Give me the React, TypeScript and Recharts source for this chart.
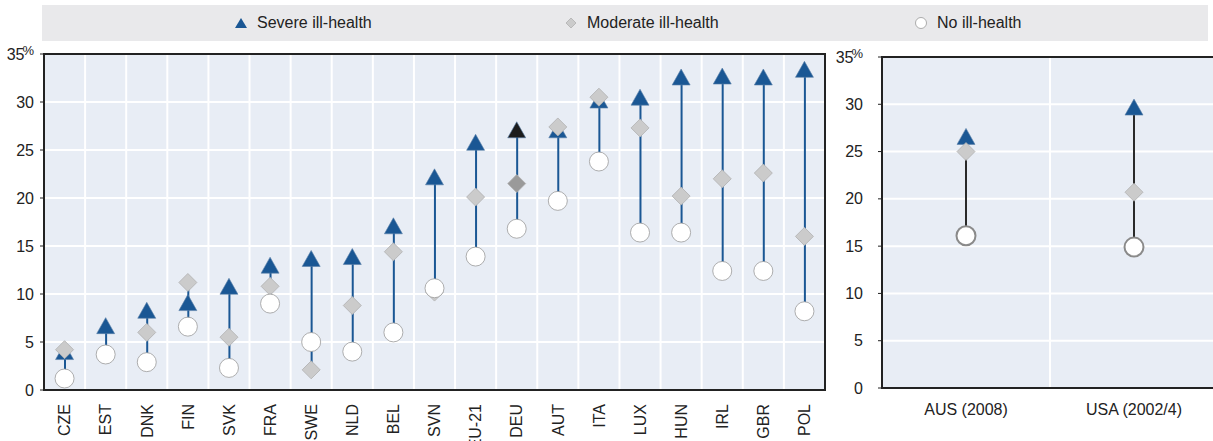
import React from 'react';
import { ComposedChart, Bar, Line, XAxis, YAxis, CartesianGrid } from 'recharts';

// country data, in %
const CATEGORIES = ['CZE', 'EST', 'DNK', 'FIN', 'SVK', 'FRA', 'SWE', 'NLD', 'BEL', 'SVN', 'EU-21', 'DEU', 'AUT', 'ITA', 'LUX', 'HUN', 'IRL', 'GBR', 'POL'];
const SEVERE = [3.9, 6.6, 8.2, 9.0, 10.7, 12.9, 13.6, 13.8, 17.0, 22.1, 25.7, 27.0, 27.0, 30.1, 30.4, 32.5, 32.6, 32.5, 33.3];
const MODERATE = [4.2, 3.7, 6.0, 11.2, 5.5, 10.8, 2.1, 8.8, 14.4, 10.2, 20.1, 21.5, 27.4, 30.5, 27.3, 20.2, 22.0, 22.6, 16.0];
const NO_ILL = [1.2, 3.7, 2.9, 6.6, 2.3, 9.0, 5.0, 4.0, 6.0, 10.6, 13.9, 16.8, 19.7, 23.8, 16.4, 16.4, 12.4, 12.4, 8.2];

// other countries (different survey years)
const OTHER_CATEGORIES = ['AUS (2008)', 'USA (2002/4)'];
const OTHER_SEVERE = [26.5, 29.6];
const OTHER_MODERATE = [25.0, 20.7];
const OTHER_NO_ILL = [16.1, 14.9];

const Y_TICKS = [0, 5, 10, 15, 20, 25, 30, 35];

const FONT = '"Liberation Sans", Arial, sans-serif';
const BLUE = '#1a5794';
const GRID_BG = '#e8edf5';

const buildRows = (cats: string[], sev: number[], mod: number[], no: number[]) =>
  cats.map((c, i) => ({
    country: c,
    severe: sev[i],
    moderate: mod[i],
    noIll: no[i],
    range: [Math.min(sev[i], mod[i], no[i]), Math.max(sev[i], mod[i], no[i])],
  }));

const mainData = buildRows(CATEGORIES, SEVERE, MODERATE, NO_ILL);
const otherData = buildRows(OTHER_CATEGORIES, OTHER_SEVERE, OTHER_MODERATE, OTHER_NO_ILL);

const Triangle = (props: any) => {
  const { cx, cy, payload } = props;
  if (cx == null || cy == null) return null;
  const fill = payload?.country === 'DEU' ? '#1c1c1c' : BLUE;
  return (
    <path
      d={`M${cx},${cy - 9} L${cx + 9},${cy + 7} L${cx - 9},${cy + 7} Z`}
      fill={fill}
      stroke="#5b7fa8"
      strokeWidth={0.6}
    />
  );
};

const Diamond = (props: any) => {
  const { cx, cy, payload } = props;
  if (cx == null || cy == null) return null;
  const fill = payload?.country === 'DEU' ? '#9a9a9a' : '#cbcbcb';
  return (
    <path
      d={`M${cx},${cy - 9} L${cx + 9},${cy} L${cx},${cy + 9} L${cx - 9},${cy} Z`}
      fill={fill}
      stroke="#b0b0b0"
      strokeWidth={0.8}
    />
  );
};

const makeCircle = (strokeColor: string, sw: number) => (props: any) => {
  const { cx, cy } = props;
  if (cx == null || cy == null) return null;
  return <circle cx={cx} cy={cy} r={9.5} fill="#fff" stroke={strokeColor} strokeWidth={sw} />;
};

const YTick = (props: any) => {
  const { x, y, payload } = props;
  if (payload.value === 35) {
    return (
      <text x={x} y={y} dy="0.35em" textAnchor="end" fontSize={16} fill="#222" fontFamily={FONT}>
        35
        <tspan fontSize={13} dy={-5} dx={-2}>%</tspan>
      </text>
    );
  }
  return (
    <text x={x} y={y} dy="0.35em" textAnchor="end" fontSize={16} fill="#222" fontFamily={FONT}>
      {payload.value}
    </text>
  );
};

const RotatedTick = (props: any) => {
  const { x, y, payload } = props;
  const top = y + 6;
  return (
    <text
      x={x}
      y={top}
      dy="0.36em"
      textAnchor="end"
      fontSize={16}
      fill="#222"
      fontFamily={FONT}
      transform={`rotate(-90, ${x}, ${top})`}
    >
      {payload.value}
    </text>
  );
};

// gridlines sit on category boundaries, not on category centres
const boundaries = (n: number) => ({ offset }: any) =>
  Array.from({ length: n + 1 }, (_, i) => offset.left + (i * offset.width) / n);

const LegendItem = ({ icon, label, left }: { icon: React.ReactNode; label: string; left: number }) => (
  <div style={{ position: 'absolute', left, top: 0, height: 36, display: 'flex', alignItems: 'center' }}>
    <svg width={16} height={16} style={{ marginRight: 8 }}>{icon}</svg>
    <span style={{ fontSize: 16, color: '#222', fontFamily: FONT }}>{label}</span>
  </div>
);

const Frame = ({ left, top, width, height, right = true }: any) => (
  <div
    style={{
      position: 'absolute',
      left,
      top,
      width,
      height,
      borderTop: '2px solid #222',
      borderLeft: '2px solid #222',
      borderBottom: '2px solid #222',
      borderRight: right ? '2px solid #222' : 'none',
      boxSizing: 'border-box',
      pointerEvents: 'none',
    }}
  />
);

export default function App() {
  return (
    <div style={{ position: 'absolute', left: 0, top: 0, width: 1213, height: 441, background: '#fff', overflow: 'hidden' }}>
      {/* legend */}
      <div style={{ position: 'absolute', left: 42, top: 5, width: 1166, height: 36, background: '#e9e9eb' }}>
        <LegendItem
          left={191}
          label="Severe ill-health"
          icon={<path d="M8,3 L14,13 L2,13 Z" fill={BLUE} />}
        />
        <LegendItem
          left={521}
          label="Moderate ill-health"
          icon={<path d="M8,3 L13,8 L8,13 L3,8 Z" fill="#cbcbcb" stroke="#b0b0b0" strokeWidth={0.8} />}
        />
        <LegendItem
          left={871}
          label="No ill-health"
          icon={<circle cx={8} cy={8} r={5.5} fill="#fff" stroke="#999" strokeWidth={0.8} />}
        />
      </div>

      {/* EU countries */}
      <div style={{ position: 'absolute', left: 0, top: 0 }}>
        <ComposedChart
          width={830}
          height={441}
          data={mainData}
          margin={{ top: 54, right: 5, bottom: 0, left: 0 }}
          barGap={0}
        >
          <CartesianGrid
            stroke="#fff"
            strokeWidth={2}
            fill={GRID_BG}
            verticalCoordinatesGenerator={boundaries(CATEGORIES.length)}
          />
          <XAxis
            dataKey="country"
            interval={0}
            tickLine={false}
            axisLine={false}
            height={51}
            tick={<RotatedTick />}
          />
          <YAxis
            domain={[0, 35]}
            ticks={Y_TICKS}
            width={44}
            axisLine={false}
            tickLine={{ stroke: '#222' }}
            tickSize={4}
            tickMargin={6}
            tick={<YTick />}
          />
          <Bar dataKey="range" barSize={2} fill={BLUE} isAnimationActive={false} />
          <Line dataKey="severe" stroke="none" dot={<Triangle />} activeDot={false} isAnimationActive={false} />
          <Line dataKey="moderate" stroke="none" dot={<Diamond />} activeDot={false} isAnimationActive={false} />
          <Line dataKey="noIll" stroke="none" dot={makeCircle('#9a9a9a', 0.8)} activeDot={false} isAnimationActive={false} />
        </ComposedChart>
      </div>
      <Frame left={43} top={53} width={783} height={338} />

      {/* AUS and USA */}
      <div style={{ position: 'absolute', left: 830, top: 0 }}>
        <ComposedChart
          width={383}
          height={441}
          data={otherData}
          margin={{ top: 57, right: -5, bottom: 0, left: 0 }}
        >
          <CartesianGrid
            stroke="#fff"
            strokeWidth={2}
            fill={GRID_BG}
            verticalCoordinatesGenerator={boundaries(OTHER_CATEGORIES.length)}
          />
          <XAxis
            dataKey="country"
            interval={0}
            tickLine={false}
            axisLine={false}
            height={53}
            tickMargin={10}
            tick={{ fontSize: 16, fill: '#222', fontFamily: FONT }}
          />
          <YAxis
            domain={[0, 35]}
            ticks={Y_TICKS}
            width={52}
            axisLine={false}
            tickLine={{ stroke: '#222' }}
            tickSize={4}
            tickMargin={15}
            tick={<YTick />}
          />
          <Bar dataKey="range" barSize={2} fill="#2a2a2a" isAnimationActive={false} />
          <Line dataKey="severe" stroke="none" dot={<Triangle />} activeDot={false} isAnimationActive={false} />
          <Line dataKey="moderate" stroke="none" dot={<Diamond />} activeDot={false} isAnimationActive={false} />
          <Line dataKey="noIll" stroke="none" dot={makeCircle('#8a8a8a', 2)} activeDot={false} isAnimationActive={false} />
        </ComposedChart>
      </div>
      <Frame left={881} top={56} width={340} height={333} right={false} />
    </div>
  );
}
